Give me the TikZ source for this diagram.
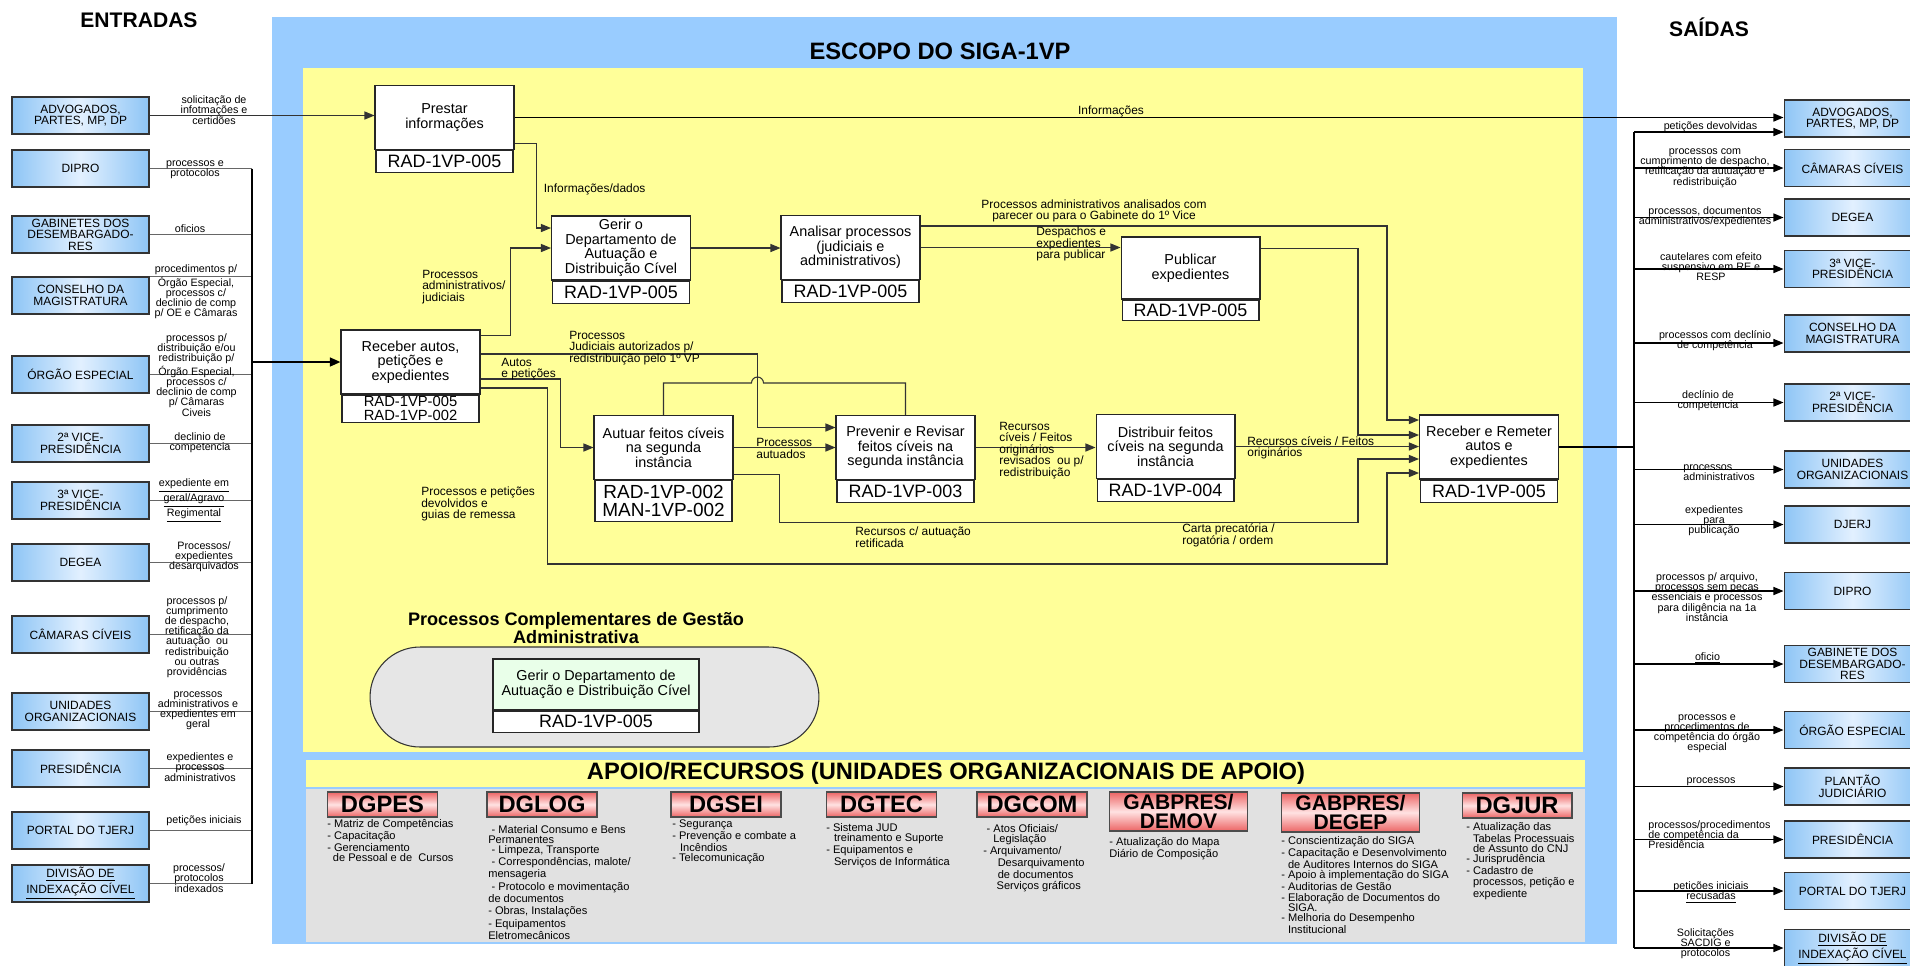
\documentclass[tikz,border=0pt]{standalone}
\usepackage{fontspec}
\setmainfont{Liberation Sans}
\usetikzlibrary{positioning,arrows.meta,calc}

\definecolor{scopeblue}{HTML}{99CCFF}
\definecolor{scopeyellow}{HTML}{FFFF99}
\definecolor{supportgray}{HTML}{E1E1E1}
\definecolor{boxblue}{HTML}{8EC5F5}
\definecolor{boxlight}{HTML}{E2F0FF}
\definecolor{dgred}{HTML}{EC6464}
\definecolor{dgpink}{HTML}{FFE2E2}
\definecolor{compgray}{HTML}{E6E6E6}
\definecolor{compgreen}{HTML}{E9FFE9}

\tikzset{
  ioBox/.style={draw=black!80, line width=0.6pt, left color=boxblue, right color=boxblue, middle color=boxlight,
    minimum width=2.74cm, minimum height=0.74cm, inner sep=1pt, align=center, font=\fontsize{6.8}{6.6}\selectfont},
  procBox/.style={draw=black!85, line width=0.6pt, fill=white, minimum width=2.78cm, minimum height=1.28cm,
    inner sep=1pt, align=center, font=\fontsize{8.2}{8.3}\selectfont},
  codeBox/.style={draw=black!85, line width=0.6pt, fill=white, minimum width=2.74cm, minimum height=0.44cm,
    inner sep=0pt, align=center, font=\fontsize{10.2}{10.4}\selectfont},
  sideLbl/.style={inner sep=0pt, align=center, font=\fontsize{6.1}{5.8}\selectfont},
  flowLbl/.style={inner sep=0pt, anchor=west, align=left, font=\fontsize{6.8}{6.6}\selectfont},
  dgBox/.style={draw=black!70, line width=0.6pt, top color=dgred, bottom color=dgred, middle color=dgpink,
    minimum width=2.2cm, minimum height=0.5cm, inner sep=0pt, font=\bfseries\fontsize{13.5}{13}\selectfont},
  gabBox/.style={dgBox, minimum width=2.76cm, minimum height=0.78cm, align=center, font=\bfseries\fontsize{12}{10.5}\selectfont},
  dgList/.style={anchor=north west, align=left, inner sep=0pt, font=\fontsize{6.3}{5.8}\selectfont},
  feed/.style={draw=black!60, line width=0.7pt},
  flow/.style={draw=black!80, line width=0.6pt},
  arr/.style={flow, -{Triangle[length=5.7pt,width=4.6pt]}},
  outArr/.style={draw=black, line width=0.7pt, -{Triangle[length=5.7pt,width=4.6pt]}},
  bus/.style={draw=black, line width=1.1pt},
}

\begin{document}
\begin{tikzpicture}[x=0.02cm, y=-0.02cm]
\useasboundingbox (0,0) rectangle (1910,965);

% Scope areas
\fill[scopeblue] (272,17) rectangle (1617,944);
\fill[scopeyellow] (303,68) rectangle (1583,752);
\fill[scopeyellow] (306,760) rectangle (1585,787);
\fill[supportgray] (306,789) rectangle (1585,942);
\node[font=\bfseries\fontsize{13.5}{14}\selectfont] (scopeTitle) at (940,51) {ESCOPO DO SIGA-1VP};
\node[font=\bfseries\fontsize{13.5}{14}\selectfont] (apoioTitle) at (946,773) {APOIO/RECURSOS (UNIDADES ORGANIZACIONAIS DE APOIO)};
\node[font=\bfseries\fontsize{12}{13}\selectfont] (entTitle) at (139,20) {ENTRADAS};
\node[font=\bfseries\fontsize{12}{13}\selectfont] (saiTitle) at (1709,27) {SAÍDAS};

% Inputs
\node[ioBox] (inAdv) at (80.5,115.5) {ADVOGADOS,\\PARTES, MP, DP};
\node[ioBox] (inDip) at (80.5,168.5) {DIPRO};
\node[ioBox] (inGab) at (80.5,234.5) {GABINETES DOS\\DESEMBARGADO-\\RES};
\node[ioBox] (inCon) at (80.5,295.5) {CONSELHO DA\\MAGISTRATURA};
\node[ioBox] (inOrg) at (80.5,374.5) {ÓRGÃO ESPECIAL};
\node[ioBox] (inVp2) at (80.5,443.5) {2ª VICE-\\PRESIDÊNCIA};
\node[ioBox] (inVp3) at (80.5,500.5) {3ª VICE-\\PRESIDÊNCIA};
\node[ioBox] (inDeg) at (80.5,562.5) {DEGEA};
\node[ioBox] (inCam) at (80.5,634.5) {CÂMARAS CÍVEIS};
\node[ioBox] (inUni) at (80.5,711.5) {UNIDADES\\ORGANIZACIONAIS};
\node[ioBox] (inPre) at (80.5,768.5) {PRESIDÊNCIA};
\node[ioBox] (inPor) at (80.5,830.5) {PORTAL DO TJERJ};
\node[ioBox] (inDiv) at (80.5,883.5) {\underline{DIVISÃO DE}\\\underline{INDEXAÇÃO CÍVEL}};

% Outputs
\node[ioBox] (outAdv) at (1852.5,118.5) {ADVOGADOS,\\PARTES, MP, DP};
\node[ioBox] (outCam) at (1852.5,168) {CÂMARAS CÍVEIS};
\node[ioBox] (outDeg) at (1852.5,217.5) {DEGEA};
\node[ioBox] (outVp3) at (1852.5,269) {3ª VICE-\\PRESIDÊNCIA};
\node[ioBox] (outCon) at (1852.5,333.5) {CONSELHO DA\\MAGISTRATURA};
\node[ioBox] (outVp2) at (1852.5,402.5) {2ª VICE-\\PRESIDÊNCIA};
\node[ioBox] (outUni) at (1852.5,469.5) {UNIDADES\\ORGANIZACIONAIS};
\node[ioBox] (outDje) at (1852.5,524.5) {DJERJ};
\node[ioBox] (outDip) at (1852.5,591) {DIPRO};
\node[ioBox] (outGab) at (1852.5,664) {GABINETE DOS\\DESEMBARGADO-\\RES};
\node[ioBox] (outOrg) at (1852.5,730) {ÓRGÃO ESPECIAL};
\node[ioBox] (outPla) at (1852.5,786.5) {PLANTÃO\\JUDICIÁRIO};
\node[ioBox] (outPre) at (1852.5,839.5) {PRESIDÊNCIA};
\node[ioBox] (outPor) at (1852.5,891) {PORTAL DO TJERJ};
\node[ioBox] (outDiv) at (1852.5,948) {\underline{DIVISÃO DE}\\\underline{INDEXAÇÃO CÍVEL}};

% Processes
\node[procBox] (prestar) at (444.5,117.5) {Prestar\\informações};
\node[codeBox, below=0pt of prestar] (prestarCode) {RAD-1VP-005};
\node[procBox] (gerir) at (621,248) {Gerir o\\Departamento de\\Autuação e\\Distribuição Cível};
\node[codeBox, below=0pt of gerir] (gerirCode) {RAD-1VP-005};
\node[procBox] (analisar) at (850.5,247.5) {Analisar processos\\(judiciais e\\administrativos)};
\node[codeBox, below=0pt of analisar] (analisarCode) {RAD-1VP-005};
\node[procBox, minimum height=1.24cm] (publicar) at (1190.5,268) {Publicar\\expedientes};
\node[codeBox, minimum height=0.4cm, below=0pt of publicar] (publicarCode) {RAD-1VP-005};
\node[procBox] (rcvA) at (410.5,362) {Receber autos,\\petições e\\expedientes};
\node[codeBox, minimum height=0.54cm, font=\fontsize{8.4}{7.9}\selectfont, below=0pt of rcvA] (rcvACode) {RAD-1VP-005\\RAD-1VP-002};
\node[procBox] (autuar) at (663.5,447.5) {Autuar feitos cíveis\\na segunda\\instância};
\node[codeBox, minimum height=0.82cm, font=\fontsize{10.8}{10.4}\selectfont, below=0pt of autuar] (autuarCode) {RAD-1VP-002\\MAN-1VP-002};
\node[procBox] (prevenir) at (905.5,447.5) {Prevenir e Revisar\\feitos cíveis na\\segunda instância};
\node[codeBox, below=0pt of prevenir] (prevenirCode) {RAD-1VP-003};
\node[procBox] (distrib) at (1165.5,446.5) {Distribuir feitos\\cíveis na segunda\\instância};
\node[codeBox, below=0pt of distrib] (distribCode) {RAD-1VP-004};
\node[procBox] (rr) at (1489,447) {Receber e Remeter\\autos e\\expedientes};
\node[codeBox, below=0pt of rr] (rrCode) {RAD-1VP-005};

% Complementary processes
\node[font=\bfseries\fontsize{10.3}{10.2}\selectfont, align=center] (compTitle) at (576,628) {Processos Complementares de Gestão\\Administrativa};
\node[draw=black!80, line width=0.6pt, fill=compgray, rounded corners=1cm, minimum width=8.98cm, minimum height=2cm] (compArea) at (594.5,697) {};
\node[procBox, fill=compgreen, minimum width=4.12cm, minimum height=1.02cm] (compGerir) at (596,684.5) {Gerir o Departamento de\\Autuação e Distribuição Cível};
\node[codeBox, minimum width=4.12cm, minimum height=0.42cm, below=0pt of compGerir] (compCode) {RAD-1VP-005};

% Support units
\node[dgBox] (dgpes) at (382.5,804.5) {DGPES};
\node[dgList] (dgpesList) at (327,819) {- Matriz de Competências\\- Capacitação\\- Gerenciamento\\\hspace*{0.5em}de Pessoal e de\ \ Cursos};
\node[dgBox] (dglog) at (542,804.5) {DGLOG};
\node[dgList] (dglogList) at (488,825) {\hspace*{0.3em}- Material Consumo e Bens\\Permanentes\\\hspace*{0.3em}- Limpeza, Transporte\\\hspace*{0.3em}- Correspondências, malote/\\mensageria\\\hspace*{0.3em}- Protocolo e movimentação\\de documentos\\[1.5pt]- Obras, Instalações\\- Equipamentos\\Eletromecânicos};
\node[dgBox] (dgsei) at (726,804.5) {DGSEI};
\node[dgList] (dgseiList) at (672,819) {- Segurança\\- Prevenção e combate a\\\hspace*{0.7em}Incêndios\\- Telecomunicação};
\node[dgBox] (dgtec) at (881.5,804.5) {DGTEC};
\node[dgList] (dgtecList) at (826,823) {- Sistema JUD\\\hspace*{0.7em}treinamento e Suporte\\- Equipamentos e\\\hspace*{0.7em}Serviços de Informática};
\node[dgBox] (dgcom) at (1032,804.5) {DGCOM};
\node[dgList] (dgcomList) at (983,824) {\hspace*{0.3em}- Atos Oficiais/\\\hspace*{0.9em}Legislação\\- Arquivamento/\\\hspace*{1.3em}Desarquivamento\\\hspace*{1.3em}de documentos\\\hspace*{1.2em}Serviços gráficos};
\node[gabBox] (demov) at (1178.5,811.5) {GABPRES/\\DEMOV};
\node[dgList] (demovList) at (1109,837) {- Atualização do Mapa\\Diário de Composição};
\node[gabBox] (degep) at (1350.5,812.5) {GABPRES/\\DEGEP};
\node[dgList] (degepList) at (1281,836) {- Conscientização do SIGA\\- Capacitação e Desenvolvimento\\\hspace*{0.6em}de Auditores Internos do SIGA\\- Apoio à implementação do SIGA\\- Auditorias de Gestão\\- Elaboração de Documentos do\\\hspace*{0.6em}SIGA.\\- Melhoria do Desempenho\\\hspace*{0.6em}Institucional};
\node[dgBox] (dgjur) at (1517,805.5) {DGJUR};
\node[dgList] (dgjurList) at (1466,822) {- Atualização das\\\hspace*{0.6em}Tabelas Processuais\\\hspace*{0.6em}de Assunto do CNJ\\- Jurisprudência\\- Cadastro de\\\hspace*{0.6em}processos, petição e\\\hspace*{0.6em}expediente};

% Input connectors and labels
\coordinate (busL) at (252,362);
\draw[arr] (inAdv.east) -- (inAdv.east -| prestar.west);
\draw[feed] (inDip.east) -- (inDip.east -| busL);
\draw[feed] (inGab.east) -- (inGab.east -| busL);
\draw[feed] (inCon.north east) -- (inCon.north east -| busL);
\draw[feed] (inOrg.east) -- (inOrg.east -| busL);
\draw[feed] (inVp2.east) -- (inVp2.east -| busL);
\draw[feed] (inVp3.east) -- (inVp3.east -| busL);
\draw[feed] (inDeg.east) -- (inDeg.east -| busL);
\draw[feed] (inCam.east) -- (inCam.east -| busL);
\draw[feed] (inUni.east) -- (inUni.east -| busL);
\draw[feed] (inPre.east) -- (inPre.east -| busL);
\draw[feed] (inPor.east) -- (inPor.east -| busL);
\draw[feed] (inDiv.east) -- (inDiv.east -| busL);
\draw[bus] (inDip.east -| busL) -- (inDiv.east -| busL);
\draw[bus, -{Triangle[length=6pt,width=5pt]}] (busL) -- (rcvA.west);

\node[sideLbl] (lblInAdv) at (214,110) {solicitação de\\infotmações e\\certidões};
\node[sideLbl] (lblInDip) at (195,170) {processos e\\protocolos};
\node[sideLbl] (lblInGab) at (190,229) {oficios};
\node[sideLbl] (lblInCon) at (196,292) {procedimentos p/\\Órgão Especial,\\processos c/\\declinio de comp\\p/ OE e Câmaras};
\node[sideLbl] (lblInOrg) at (196.5,375) {processos p/\\distribuição e/ou\\redistribuição p/\\Órgão Especial,\\processos c/\\declinio de comp\\p/ Câmaras\\Civeis};
\node[sideLbl] (lblInVp2) at (200,443) {declinio de\\competencia};
\node[sideLbl] (lblInVp3) at (194,500.5) {\underline{expediente em}\\\underline{geral/Agravo}\\\underline{Regimental}};
\node[sideLbl] (lblInDeg) at (204,557) {Processos/\\expedientes\\desarquivados};
\node[sideLbl] (lblInCam) at (197,637) {processos p/\\cumprimento\\de despacho,\\retificação da\\autuação\ \ ou\\redistribuição\\ou outras\\providências};
\node[sideLbl] (lblInUni) at (198,710.5) {processos\\administrativos e\\expedientes em\\geral};
\node[sideLbl] (lblInPre) at (200,767) {expedientes e\\processos\\administrativos};
\node[sideLbl] (lblInPor) at (204,821) {petições iniciais};
\node[sideLbl] (lblInDiv) at (199,878) {processos/\\protocolos\\indexados};

% Output connectors and labels
\coordinate (busR) at (1634,447);
\coordinate (advBack) at ($(outAdv.west)+(0,13.5)$);
\coordinate (conIn) at ($(outCon.west)+(0,9.5)$);
\draw[outArr] (prestar.east) -- (prestar.east -| outAdv.west);
\draw[bus] (advBack -| busR) -- (outDiv.west -| busR);
\draw[bus] (rr.east) -- (busR);
\draw[outArr] (advBack -| busR) -- (advBack);
\draw[outArr] (outCam.west -| busR) -- (outCam.west);
\draw[outArr] (outDeg.west -| busR) -- (outDeg.west);
\draw[outArr] (outVp3.west -| busR) -- (outVp3.west);
\draw[outArr] (conIn -| busR) -- (conIn);
\draw[outArr] (outVp2.west -| busR) -- (outVp2.west);
\draw[outArr] (outUni.west -| busR) -- (outUni.west);
\draw[outArr] (outDje.west -| busR) -- (outDje.west);
\draw[outArr] (outDip.west -| busR) -- (outDip.west);
\draw[outArr] (outGab.west -| busR) -- (outGab.west);
\draw[outArr] (outOrg.west -| busR) -- (outOrg.west);
\draw[outArr] (outPla.west -| busR) -- (outPla.west);
\draw[outArr] (outPre.west -| busR) -- (outPre.west);
\draw[outArr] (outPor.west -| busR) -- (outPor.west);
\draw[outArr] (outDiv.west -| busR) -- (outDiv.west);

\node[sideLbl] (lblOutAdv) at (1710.5,127) {petições devolvidas};
\node[sideLbl] (lblOutCam) at (1705,168) {processos com\\cumprimento de despacho,\\retificação da autuação e\\redistribuição};
\node[sideLbl] (lblOutDeg) at (1705,217) {processos, documentos\\administrativos/expedientes};
\node[sideLbl] (lblOutVp3) at (1711,266.5) {cautelares com efeito\\suspensivo em RE e\\RESP};
\node[sideLbl] (lblOutCon) at (1715,341) {processos com declínio\\de competência};
\node[sideLbl] (lblOutVp2) at (1708,401) {declínio de\\competencia};
\node[sideLbl, anchor=west, align=left] (lblOutUni) at (1683,473) {processos\\administrativos};
\node[sideLbl] (lblOutDje) at (1714,521) {expedientes\\para\\publicação};
\node[sideLbl] (lblOutDip) at (1707,597) {processos p/ arquivo,\\processos sem peças\\essenciais e processos\\para diligência na 1a\\instância};
\node[sideLbl] (lblOutGab) at (1707.5,658) {\underline{oficio}};
\node[sideLbl] (lblOutOrg) at (1707,733.5) {processos e\\procedimentos de\\competência do órgão\\especial};
\node[sideLbl] (lblOutPla) at (1711,782) {processos};
\node[sideLbl, anchor=west, align=left] (lblOutPre) at (1648,834.5) {processos/procedimentos\\de competência da\\Presidência};
\node[sideLbl] (lblOutPor) at (1711,892.5) {petições iniciais\\\underline{recusadas}};
\node[sideLbl] (lblOutDiv) at (1705.5,944) {Solicitações\\SACDIG e\\protocolos};

% Process flows
\draw[arr] ($(prestar.south east)+(0,-7)$) -- ++(22,0) |- ($(gerir.west)+(0,-20)$);
\draw[arr] ($(rcvA.north east)+(0,6)$) -- ++(30,0) |- (gerir.west);
\draw[arr] (gerir.east) -- (gerir.east -| analisar.west);
\draw[arr] ($(analisar.north east)+(0,11)$) -| ($(rr.west)+(-32,-27)$) -- ($(rr.west)+(0,-27)$);
\draw[arr] (analisar.east) -- (analisar.east -| publicar.west);
\draw[arr] ($(publicar.north east)+(0,12)$) -| ($(rr.west)+(-61,-12)$) -- ($(rr.west)+(0,-12)$);
\draw[arr] ($(rcvA.east)+(0,-8)$) -| ($(prevenir.west)+(-78,-20)$) -- ($(prevenir.west)+(0,-20)$);
\draw[arr] ($(rcvA.east)+(0,17)$) -| ($(autuar.west)+(-33,0)$) -- (autuar.west);
\draw[arr] ($(rcvA.east)+(0,26)$) -- ++(67,0) -- ++(0,176) -| ($(rr.west)+(-32,26)$) -- ($(rr.west)+(0,26)$);
\draw[arr] (autuar.east) -- (prevenir.west);
\coordinate (hop) at ($(prevenir.west)+(-84,-64.5)$);
\draw[flow] (autuar.north) |- (hop) arc[start angle=180, end angle=0, radius=0.12cm] -| (prevenir.north);
\draw[arr] (prevenir.east) -- (prevenir.east -| distrib.west);
\draw[arr] (distrib.east) -- (distrib.east -| rr.west);
\draw[arr] ($(autuar.south east)+(0,-6)$) -- ++(46,0) -- ++(0,48.5) -| ($(rr.west)+(-61,12)$) -- ($(rr.west)+(0,12)$);

\node[flowLbl, anchor=center] (lblInfo) at (1111,111) {Informações};
\node[flowLbl] (lblDados) at (543.5,189) {Informações/dados};
\node[flowLbl] (lblAdmJud) at (422,287) {Processos\\administrativos/\\judiciais};
\node[flowLbl, anchor=center, align=center] (lblAnalis) at (1094,211) {Processos administrativos analisados com\\parecer ou para o Gabinete do 1º Vice};
\node[flowLbl] (lblDesp) at (1036,244) {Despachos e\\expedientes\\para publicar};
\node[flowLbl] (lblJudAut) at (569,348) {Processos\\Judiciais autorizados p/\\redistribuição pelo 1º VP};
\node[flowLbl] (lblAutos) at (501,369) {Autos\\e petições};
\node[flowLbl] (lblGuias) at (421,504) {Processos e petições\\devolvidos e\\guias de remessa};
\node[flowLbl] (lblAutuados) at (756,448.5) {Processos\\autuados};
\node[flowLbl] (lblRecRev) at (999,450.5) {Recursos\\cíveis / Feitos\\originários\\revisados\ \ ou p/\\redistribuição};
\node[flowLbl] (lblRecOri) at (1247,448) {Recursos cíveis / Feitos\\originários};
\node[flowLbl] (lblRetif) at (855,537) {Recursos c/ autuação\\retificada};
\node[flowLbl] (lblCarta) at (1182,535.5) {Carta precatória /\\rogatória / ordem};
\end{tikzpicture}
\end{document}
